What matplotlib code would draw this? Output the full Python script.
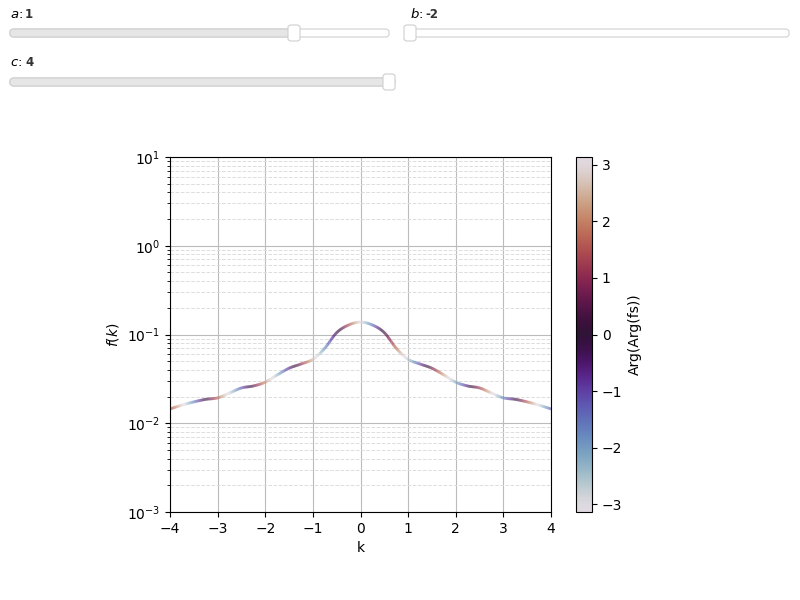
import numpy as np
import matplotlib
matplotlib.use("Agg")
import matplotlib.pyplot as plt
from matplotlib.collections import LineCollection
from matplotlib.patches import FancyBboxPatch
from matplotlib.colors import Normalize

k_pos = [0, 0.25, 0.5, 0.75, 1.0, 1.25, 1.5, 1.75, 2.0, 2.25, 2.5, 2.75, 3.0, 3.25, 3.5, 3.75, 4.0]
mag_pos = [0.138, 0.128, 0.105, 0.070, 0.0525, 0.0465, 0.0417, 0.035, 0.029, 0.0263, 0.025, 0.0219, 0.0193, 0.0186, 0.0174, 0.016, 0.0145]
phase_pos = [-3.14, -1.45, 0.24, 1.93, -2.66, -0.97, 0.72, 2.41, -2.19, -0.50, 1.19, 2.88, -1.71, -0.02, 1.67, -2.92, -1.23]

k = np.array([-v for v in k_pos[:0:-1]] + k_pos)
mag = np.array(mag_pos[:0:-1] + mag_pos)
phase = np.array([-v for v in phase_pos[:0:-1]] + phase_pos)

fig = plt.figure(figsize=(8, 6), dpi=100)
W, H = 800, 600

def fx(px): return px / W
def fy(py): return 1 - py / H

def slider(x0, x1, yc, hx, label, val):
    fig.text(fx(x0), fy(yc - 19), label + ": ", fontsize=9.5, va="center")
    fig.text(fx(x0 + 15), fy(yc - 19), val, fontsize=8.5, fontweight="bold", va="center", color="#333333")
    th = 8
    fig.patches.append(FancyBboxPatch((fx(x0), fy(yc + th / 2)), fx(x1 - x0), th / H,
                                      boxstyle="round,pad=0,rounding_size=0.005", transform=fig.transFigure,
                                      fc="white", ec="#d0d0d0", lw=0.8))
    fig.patches.append(FancyBboxPatch((fx(x0), fy(yc + th / 2)), fx(hx - x0), th / H,
                                      boxstyle="round,pad=0,rounding_size=0.005", transform=fig.transFigure,
                                      fc="#e6e6e6", ec="#d0d0d0", lw=0.8))
    fig.patches.append(FancyBboxPatch((fx(hx - 6), fy(yc + 8)), fx(12), 16 / H,
                                      boxstyle="round,pad=0,rounding_size=0.004", transform=fig.transFigure,
                                      fc="white", ec="#cfcfcf", lw=0.8))

slider(10, 389, 33, 294, "$a$", "1")
slider(410, 789, 33, 410, "$b$", "-2")
slider(10, 395, 82, 389, "$c$", "4")

ax = fig.add_axes([fx(170), fy(512), fx(551 - 170), (512 - 157) / H])
ax.set_yscale("log")
ax.set_xlim(-4, 4)
ax.set_ylim(1e-3, 1e1)
ax.grid(True, which="major", color="#bbbbbb", lw=0.8)
ax.grid(True, which="minor", axis="y", color="#dddddd", lw=0.7, ls="--")
ax.set_axisbelow(True)

ly = np.log10(mag)
ph_un = np.unwrap(phase)
my = np.gradient(ly, k)
segs, cols = [], []
sub = 24
for i in range(len(k) - 1):
    h = k[i + 1] - k[i]
    t = np.linspace(0, 1, sub + 1)
    h00 = 2 * t**3 - 3 * t**2 + 1; h10 = t**3 - 2 * t**2 + t
    h01 = -2 * t**3 + 3 * t**2; h11 = t**3 - t**2
    xs = k[i] + h * t
    ys = 10 ** (h00 * ly[i] + h10 * h * my[i] + h01 * ly[i + 1] + h11 * h * my[i + 1])
    ps = ph_un[i] + (ph_un[i + 1] - ph_un[i]) * t
    for j in range(sub):
        segs.append([(xs[j], ys[j]), (xs[j + 1], ys[j + 1])])
        cols.append(np.angle(np.exp(1j * (ps[j] + ps[j + 1]) / 2)))
norm = Normalize(-np.pi, np.pi)
lc = LineCollection(segs, cmap="twilight", norm=norm, lw=2.0, alpha=0.8, capstyle="butt")
lc.set_array(np.array(cols))
ax.add_collection(lc)
ax.set_xlabel("k")
ax.set_ylabel("$f(k)$")

cax = fig.add_axes([fx(576), fy(512), fx(16), (512 - 157) / H])
cb = fig.colorbar(plt.cm.ScalarMappable(norm=norm, cmap="twilight"), cax=cax)
cb.set_ticks([-3, -2, -1, 0, 1, 2, 3])
cb.set_label("Arg(Arg(fs))")

fig.savefig("out.png", dpi=100)
